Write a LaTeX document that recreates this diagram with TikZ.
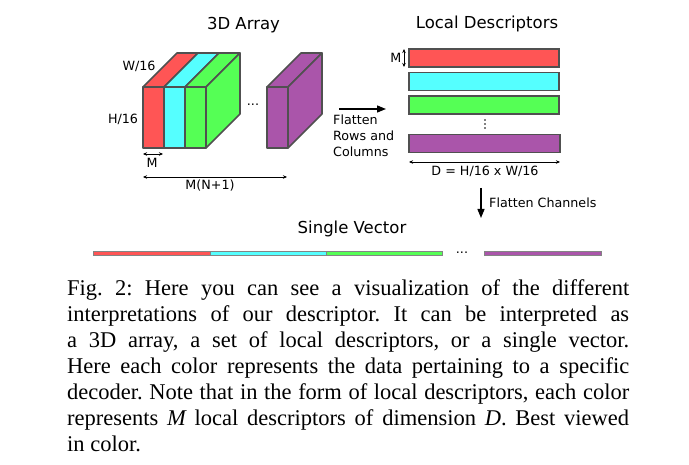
\documentclass[tikz,border=0pt]{standalone}
\usepackage{fontspec}
\newfontfamily\dv{DejaVu Sans}
\newfontfamily\capfont{Liberation Serif}
\usetikzlibrary{arrows.meta}
\definecolor{cred}{HTML}{FF5555}
\definecolor{ccyan}{HTML}{55FFFF}
\definecolor{cgreen}{HTML}{55FF55}
\definecolor{cpurple}{HTML}{AA55AA}
\definecolor{edgegray}{HTML}{505050}
\begin{document}
\begin{tikzpicture}[x=1pt,y=-1pt,
  slabst/.style={draw=edgegray,line width=1.6pt,line join=round},
  barst/.style={draw=edgegray,line width=1.5pt},
  thinbar/.style={draw=edgegray!70,line width=0.6pt},
  dim/.style={{Stealth[length=4pt,width=3.5pt]}-{Stealth[length=4pt,width=3.5pt]},line width=0.6pt},
  bigarrow/.style={-{Triangle[length=9pt,width=7pt]},line width=1.3pt},
  lbl/.style={font=\dv\fontsize{12.7}{16}\selectfont,inner sep=0pt},
  ttl/.style={font=\dv\fontsize{16.5}{19}\selectfont,inner sep=0pt}]
\useasboundingbox[fill=white] (0,0) rectangle (689,465);

% titles
\node[ttl] (t3d) at (243.5,25) {3D Array};
\node[ttl] (tld) at (487,24) {Local Descriptors};
\node[ttl] (tsv) at (352,229) {Single Vector};

% 3D array slabs
\newcommand\myslab[2]{%
  \filldraw[slabst,fill=#2] (#1,87) rectangle ++(21,61);
  \filldraw[slabst,fill=#2] (#1,87) -- ++(34,-34) -- ++(21,0) -- ++(-34,34) -- cycle;}
\newcommand\myside[2]{%
  \filldraw[slabst,fill=#2] (#1+21,87) -- ++(34,-34) -- ++(0,61) -- ++(-34,34) -- cycle;}
\myslab{143}{cred}
\myslab{164}{ccyan}
\myslab{185}{cgreen}
\myside{185}{cgreen}
\myslab{267}{cpurple}
\myside{267}{cpurple}
\node[lbl,anchor=base] (adots) at (253,106) {...};

\node[lbl] (w16) at (139,66) {W/16};
\node[lbl] (h16) at (123,119) {H/16};
\coordinate (m1) at (143,154);
\coordinate (m2) at (163,154);
\draw[dim] (m1) -- (m2);
\node[lbl] (mlbl) at (152,163) {M};
\coordinate (n1) at (143,177);
\coordinate (n2) at (287,177);
\draw[dim] (n1) -- (n2);
\node[lbl] (nlbl) at (210,186) {M(N+1)};

% flatten rows arrow
\coordinate (f1) at (339,109);
\coordinate (f2) at (386,109);
\draw[bigarrow] (f1) -- (f2);
\node[lbl,anchor=west,align=left] (frc) at (333,136) {Flatten\\Rows and\\Columns};

% local descriptors
\filldraw[barst,fill=cred] (409,49) rectangle (559,67);
\filldraw[barst,fill=ccyan] (409,72.5) rectangle (559,90.5);
\filldraw[barst,fill=cgreen] (409,96) rectangle (559,114);
\filldraw[barst,fill=cpurple] (409,134.5) rectangle (560,152.5);
\foreach \yy in {120,124,128} \fill (485,\yy) circle (0.9);
\coordinate (lm1) at (404,49);
\coordinate (lm2) at (404,67);
\draw[dim] (lm1) -- (lm2);
\node[lbl,anchor=east] (lmlbl) at (401.5,58) {M};
\coordinate (d1) at (409,162);
\coordinate (d2) at (560,162);
\draw[dim] (d1) -- (d2);
\node[lbl] (dlbl) at (485,171) {D = H/16 x W/16};

% flatten channels
\coordinate (c1) at (481,188);
\coordinate (c2) at (481,218);
\draw[bigarrow] (c1) -- (c2);
\node[lbl,anchor=west] (fclbl) at (489,203) {Flatten Channels};

% single vector
\filldraw[thinbar,fill=cred] (93,251) rectangle (210,255);
\filldraw[thinbar,fill=ccyan] (210,251) rectangle (326,255);
\filldraw[thinbar,fill=cgreen] (326,251) rectangle (442,255);
\filldraw[thinbar,fill=cpurple] (484,251) rectangle (601,255);
\node[lbl,anchor=base] (sdots) at (462,254) {...};

% caption
\node[inner sep=0pt,anchor=base west] (cap) at (67,296) {\vtop{\hsize=562pt\parindent=0pt
\capfont\fontsize{22.5}{26}\selectfont\frenchspacing
\makebox[\hsize][s]{Fig. 2: Here you can see a visualization of the different}\par
\makebox[\hsize][s]{interpretations of our descriptor. It can be interpreted as}\par
\makebox[\hsize][s]{a 3D array, a set of local descriptors, or a single vector.}\par
\makebox[\hsize][s]{Here each color represents the data pertaining to a specific}\par
\makebox[\hsize][s]{decoder. Note that in the form of local descriptors, each color}\par
\makebox[\hsize][s]{represents {\itshape M} local descriptors of dimension {\itshape D}. Best viewed}\par
in color.\par}};
\end{tikzpicture}
\end{document}
